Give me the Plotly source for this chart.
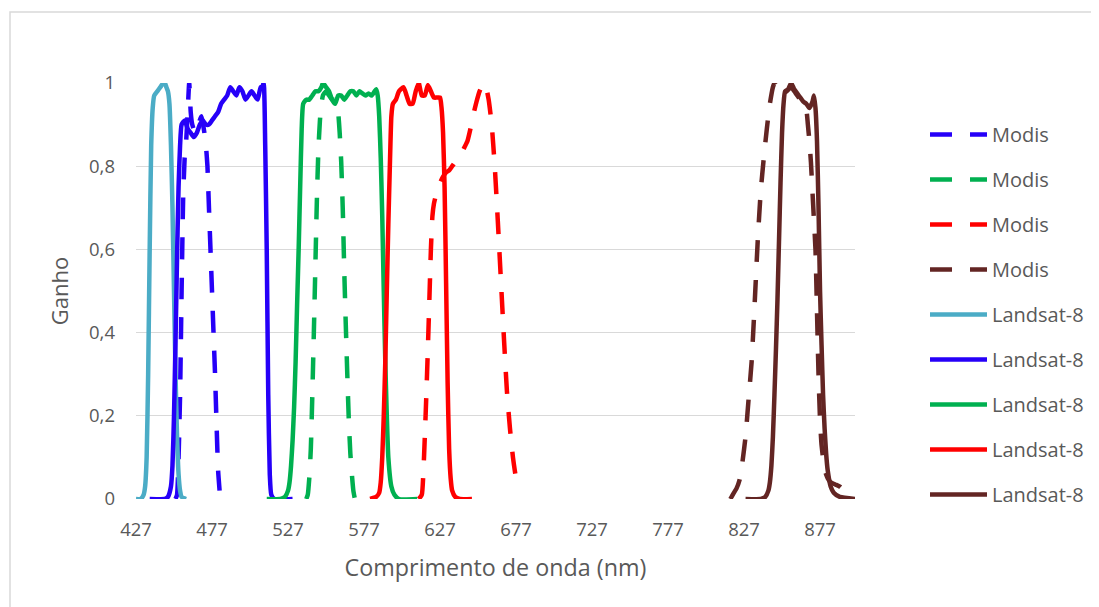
import plotly.graph_objects as go

# ---------------- data ----------------
x_ticks = [427, 477, 527, 577, 627, 677, 727, 777, 827, 877]
y_ticks = [0, 0.2, 0.4, 0.6, 0.8, 1.0]
y_tick_text = ["0", "0,2", "0,4", "0,6", "0,8", "1"]

# MODIS bands (dashed)
modis_blue_x = [453, 454, 455, 456, 457, 458, 459, 460, 461, 462, 463, 464, 466, 468, 470, 472, 473, 474, 475, 476, 477, 478, 479, 480, 481, 482]
modis_blue_y = [0.0, 0.01, 0.1, 0.25, 0.5, 0.72, 0.82, 0.86, 0.93, 1.0, 0.93, 0.9, 0.88, 0.9, 0.92, 0.88, 0.85, 0.8, 0.7, 0.6, 0.5, 0.4, 0.3, 0.18, 0.07, 0.02]

modis_green_x = [539, 540, 541, 542, 543, 544, 545, 546, 547, 548, 549, 550, 552, 554, 556, 558, 559, 560, 561, 562, 563, 564, 565, 566, 567, 568, 569, 570, 571]
modis_green_y = [0.0, 0.01, 0.05, 0.12, 0.25, 0.4, 0.56, 0.72, 0.84, 0.91, 0.95, 0.97, 0.98, 0.97, 0.96, 0.96, 0.95, 0.93, 0.88, 0.81, 0.7, 0.55, 0.42, 0.3, 0.19, 0.11, 0.06, 0.02, 0.0]

modis_red_x = [613, 615, 616, 617, 618, 619, 620, 621, 622, 623, 625, 627, 629, 631, 633, 635, 637, 639, 641, 643, 645, 647, 649, 651, 653, 655, 656, 657, 659, 661, 663, 665, 667, 669, 671, 673, 675, 677, 679]
modis_red_y = [0.0, 0.01, 0.06, 0.15, 0.25, 0.36, 0.48, 0.6, 0.68, 0.71, 0.74, 0.76, 0.775, 0.785, 0.79, 0.8, 0.81, 0.82, 0.83, 0.845, 0.86, 0.89, 0.925, 0.955, 0.98, 0.995, 1.0, 0.995, 0.96, 0.9, 0.8, 0.67, 0.53, 0.39, 0.26, 0.17, 0.1, 0.05, 0.02]

modis_nir_x = [818, 820, 822, 824, 826, 828, 830, 832, 834, 836, 838, 840, 842, 844, 846, 847, 848, 850, 852, 855, 858, 861, 864, 866, 868, 869, 870, 871, 872, 873, 874, 875, 876, 877, 878, 880, 882, 884, 887, 890, 893, 897]
modis_nir_y = [0.0, 0.013, 0.025, 0.045, 0.09, 0.15, 0.24, 0.33, 0.47, 0.62, 0.74, 0.82, 0.89, 0.95, 0.99, 1.0, 0.995, 0.97, 0.975, 0.98, 0.99, 0.975, 0.96, 0.95, 0.935, 0.9, 0.86, 0.81, 0.74, 0.67, 0.6, 0.45, 0.3, 0.19, 0.13, 0.07, 0.05, 0.04, 0.035, 0.03, 0.02, 0.01]

# Landsat-8 bands (solid)
ls_coastal_x = [427, 430, 432, 433, 434, 435, 436, 437, 438, 439, 441, 443, 445, 446, 447, 448, 449, 450, 451, 452, 453, 454, 455, 456, 457, 460]
ls_coastal_y = [0, 0, 0.01, 0.03, 0.1, 0.3, 0.6, 0.85, 0.94, 0.97, 0.98, 0.99, 1.0, 1.0, 0.99, 0.98, 0.95, 0.85, 0.7, 0.5, 0.3, 0.15, 0.06, 0.02, 0.005, 0]

ls_blue_x = [436, 446, 448, 450, 451, 452, 453, 454, 455, 456, 457, 459, 461, 463, 465, 467, 469, 471, 473, 475, 477, 479, 481, 483, 485, 487, 489, 491, 493, 495, 497, 499, 501, 503, 505, 507, 509, 510, 511, 512, 513, 514, 515, 516, 518, 530]
ls_blue_y = [0, 0, 0.005, 0.03, 0.08, 0.2, 0.38, 0.58, 0.75, 0.85, 0.9, 0.91, 0.89, 0.88, 0.87, 0.88, 0.9, 0.91, 0.9, 0.9, 0.91, 0.92, 0.93, 0.95, 0.96, 0.97, 0.99, 0.98, 0.97, 0.99, 0.98, 0.96, 0.97, 0.98, 0.97, 0.96, 0.99, 0.99, 1.0, 0.85, 0.6, 0.25, 0.06, 0.01, 0, 0]

ls_green_x = [513, 522, 525, 527, 528, 529, 530, 531, 532, 533, 534, 535, 536, 537, 539, 541, 543, 545, 547, 549, 550, 552, 554, 556, 558, 560, 562, 564, 566, 568, 570, 572, 574, 576, 578, 580, 582, 584, 585, 586, 587, 588, 589, 590, 591, 592, 593, 595, 597, 600, 612]
ls_green_y = [0, 0, 0.005, 0.02, 0.04, 0.08, 0.14, 0.22, 0.33, 0.47, 0.6, 0.75, 0.89, 0.95, 0.96, 0.96, 0.97, 0.98, 0.98, 0.99, 1.0, 0.99, 0.98, 0.96, 0.95, 0.97, 0.97, 0.96, 0.97, 0.98, 0.98, 0.97, 0.98, 0.975, 0.97, 0.975, 0.97, 0.98, 0.985, 0.97, 0.92, 0.82, 0.68, 0.5, 0.33, 0.2, 0.1, 0.03, 0.01, 0, 0]

ls_red_x = [581, 585, 587, 588, 589, 590, 591, 592, 593, 594, 595, 596, 598, 600, 603, 605, 607, 609, 611, 613, 615, 617, 619, 621, 623, 625, 627, 628, 629, 630, 631, 632, 633, 634, 635, 637, 640, 648]
ls_red_y = [0, 0.005, 0.015, 0.04, 0.1, 0.2, 0.33, 0.5, 0.66, 0.8, 0.92, 0.95, 0.96, 0.98, 0.99, 0.97, 0.95, 0.95, 0.98, 1.0, 0.97, 0.97, 0.995, 0.98, 0.965, 0.965, 0.965, 0.94, 0.88, 0.75, 0.52, 0.28, 0.12, 0.05, 0.02, 0.005, 0, 0]

ls_nir_x = [828, 838, 841, 843, 844, 845, 846, 847, 848, 849, 850, 851, 852, 853, 854, 856, 858, 860, 862, 864, 866, 868, 870, 872, 873, 874, 875, 876, 877, 878, 879, 880, 881, 882, 884, 886, 890, 900]
ls_nir_y = [0, 0, 0.005, 0.02, 0.04, 0.08, 0.15, 0.25, 0.36, 0.48, 0.62, 0.76, 0.88, 0.95, 0.98, 0.985, 1.0, 0.985, 0.975, 0.965, 0.955, 0.95, 0.94, 0.955, 0.97, 0.94, 0.86, 0.7, 0.5, 0.37, 0.25, 0.17, 0.11, 0.07, 0.03, 0.015, 0.005, 0]

modis_names = ["Modis", "Modis", "Modis", "Modis"]
landsat_names = ["Landsat-8", "Landsat-8", "Landsat-8", "Landsat-8", "Landsat-8"]

# ---------------- styles ----------------
C_CYAN = "#4BACC6"
C_BLUE = "#2600F8"
C_GREEN = "#00B050"
C_RED = "#FF0000"
C_BROWN = "#632523"
TXT = "#595959"
GRID = "#D9D9D9"
FONT = "Open Sans"
LW = 4.5

modis_series = [(modis_blue_x, modis_blue_y, C_BLUE),
                (modis_green_x, modis_green_y, C_GREEN),
                (modis_red_x, modis_red_y, C_RED),
                (modis_nir_x, modis_nir_y, C_BROWN)]
landsat_series = [(ls_coastal_x, ls_coastal_y, C_CYAN),
                  (ls_blue_x, ls_blue_y, C_BLUE),
                  (ls_green_x, ls_green_y, C_GREEN),
                  (ls_red_x, ls_red_y, C_RED),
                  (ls_nir_x, ls_nir_y, C_BROWN)]

fig = go.Figure()
gi = 0
for (xs, ys, col), nm in zip(modis_series, modis_names):
    assert len(xs) == len(ys)
    fig.add_trace(go.Scatter(x=xs, y=ys, mode="lines", name=nm, legendgroup="g%d" % gi,
                             line=dict(color=col, width=LW, dash="22px,18px", shape="spline", smoothing=0.5),
                             cliponaxis=False, hoverinfo="skip"))
    gi += 1
for (xs, ys, col), nm in zip(landsat_series, landsat_names):
    assert len(xs) == len(ys)
    fig.add_trace(go.Scatter(x=xs, y=ys, mode="lines", name=nm, legendgroup="g%d" % gi,
                             line=dict(color=col, width=LW, shape="spline", smoothing=0.5),
                             cliponaxis=False, hoverinfo="skip"))
    gi += 1

# page body adds an 8px offset; screenshot coordinates: plot 136..855 x 83..499
OFF = 8
W, H = 1099 - OFF, 607 - OFF
L, T = 136 - OFF, 83 - OFF
pw, ph = 719, 416
R = W - L - pw
B = H - T - ph

def px(sx):
    return (sx - 136) / pw

def py(sy):
    return (499 - sy) / ph

fig.update_layout(
    width=W, height=H,
    margin=dict(l=L, r=R, t=T, b=B, autoexpand=False),
    paper_bgcolor="white", plot_bgcolor="white",
    font=dict(family=FONT, color=TXT, size=18),
    showlegend=True,
    legend=dict(x=px(925), y=py(115), xanchor="left", yanchor="top",
                font=dict(size=20, color=TXT, family=FONT),
                tracegroupgap=16, itemwidth=57, bgcolor="rgba(0,0,0,0)"),
    xaxis=dict(range=[427, 900], tickvals=x_ticks, ticktext=[str(v) for v in x_ticks],
               showgrid=False, zeroline=False, showline=False, ticks="",
               tickfont=dict(size=18.5, color=TXT, family=FONT), ticklabelstandoff=17,
               title=dict(text="Comprimento de onda (nm)", font=dict(size=23.3, color=TXT, family=FONT), standoff=20)),
    yaxis=dict(range=[0, 1], tickvals=y_ticks, ticktext=y_tick_text,
               showgrid=True, gridcolor=GRID, gridwidth=1.3, zeroline=False, showline=False, ticks="",
               tickfont=dict(size=18.5, color=TXT, family=FONT), ticklabelstandoff=20,
               title=dict(text="Ganho", font=dict(size=22, color=TXT, family=FONT), standoff=14)),
    shapes=[dict(type="rect", xref="paper", yref="paper",
                 x0=px(10), x1=px(1130), y0=py(640), y1=py(12),
                 line=dict(color=GRID, width=1.5), fillcolor="rgba(0,0,0,0)", layer="below")],
)

fig.write_html("out.html")
